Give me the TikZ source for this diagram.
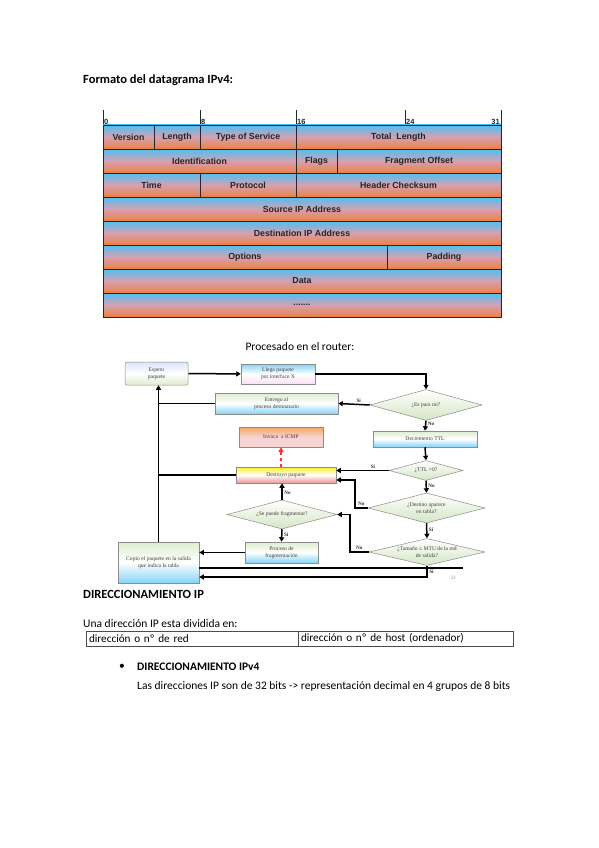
\documentclass[tikz,border=0pt]{standalone}
\usepackage{fontspec}
\setmainfont{Carlito}
\newfontfamily\fieldfont{Liberation Sans}
\newfontfamily\slidefont{Liberation Serif}
\usetikzlibrary{arrows.meta, shapes.geometric}

\definecolor{ipblue}{RGB}{78,192,242}
\definecolor{ippink}{RGB}{214,160,178}
\definecolor{iporange}{RGB}{236,128,66}
\definecolor{boxgreen}{RGB}{222,236,208}
\definecolor{boxblue}{RGB}{132,212,246}
\definecolor{boxlav}{RGB}{222,228,248}
\definecolor{boxpink}{RGB}{248,226,240}
\definecolor{boxorange}{RGB}{244,166,96}
\definecolor{boxrose}{RGB}{246,212,212}
\definecolor{boxyellow}{RGB}{255,240,40}
\definecolor{boxred}{RGB}{238,150,150}
\definecolor{dmdgreen}{RGB}{212,230,196}

\begin{document}
\begin{tikzpicture}[x=1pt, y=-1pt,
    field/.style={draw=black!85, line width=0.9pt, top color=ipblue, bottom color=iporange, middle color=ippink,
      minimum height=24pt, inner sep=0pt, text=black!85, font=\fieldfont\bfseries\fontsize{8.8}{10}\selectfont},
    bitlbl/.style={inner sep=1pt, text=black!85, font=\fieldfont\bfseries\fontsize{7.5}{8}\selectfont},
    fbox/.style={draw=black!45, line width=0.5pt, inner sep=1pt, align=center, text=black!75,
      font=\slidefont\fontsize{5.6}{6.8}\selectfont},
    decision/.style={fbox, diamond, shape aspect=4.3, inner sep=0pt, top color=white, bottom color=dmdgreen},
    arr/.style={line width=1.5pt, -{Triangle[length=4.5pt, width=5pt]}},
    link/.style={line width=1.5pt},
    lbl/.style={inner sep=1.5pt, text=black!80, font=\slidefont\bfseries\fontsize{5.2}{6}\selectfont},
    pagetext/.style={anchor=west, inner sep=0pt, font=\fontsize{11.5}{13}\selectfont},
    pagehead/.style={pagetext, font=\bfseries\fontsize{12.5}{14}\selectfont},
    cell/.style={draw=black!70, line width=0.6pt, minimum height=15pt, inner xsep=3pt, inner ysep=0pt,
      text width=206pt, align=left, font=\fontsize{11.2}{13}\selectfont}]
  \fill[white] (0,0) rectangle (599,848);
  \useasboundingbox (0,0) rectangle (599,848);

  \node[pagehead] (title) at (83,80) {Formato del datagrama IPv4:};

  % bit ruler
  \foreach \x/\b in {103/0, 200/8, 296/16, 405/24} {
    \draw[line width=0.9pt, black!85] (\x,110) -- (\x,125);
    \node[bitlbl, anchor=south west] (bit\b) at (\x,125.5) {\b};
  }
  \draw[line width=0.9pt, black!85] (501,110) -- (501,125);
  \node[bitlbl, anchor=south east] (bit31) at (501,125.5) {31};

  % header fields
  \node[field, minimum width=51pt] (version) at (128.5,137) {Version};
  \node[field, minimum width=46pt] (length) at (177,137) {Length};
  \node[field, minimum width=96pt] (tos) at (248,137) {Type of Service};
  \node[field, minimum width=205pt] (total) at (398.5,137) {Total\ \ Length};
  \node[field, minimum width=193pt] (ident) at (199.5,161) {Identification};
  \node[field, minimum width=41pt] (flags) at (316.5,161) {Flags};
  \node[field, minimum width=164pt] (offset) at (419,161) {Fragment Offset};
  \node[field, minimum width=97pt] (ttlf) at (151.5,185) {Time};
  \node[field, minimum width=96pt] (proto) at (248,185) {Protocol};
  \node[field, minimum width=205pt] (check) at (398.5,185) {Header Checksum};
  \node[field, minimum width=398pt] (src) at (302,209) {Source IP Address};
  \node[field, minimum width=398pt] (dst) at (302,233) {Destination IP Address};
  \node[field, minimum width=284pt] (opts) at (245,257) {Options};
  \node[field, minimum width=114pt] (pad) at (444,257) {Padding};
  \node[field, minimum width=398pt] (data) at (302,281) {Data};
  \node[field, minimum width=398pt] (more) at (302,305) {.......};

  \node[pagetext, anchor=center] (router) at (300,347) {Procesado en el router:};

  % flowchart
  \node[fbox, rounded corners=2pt, minimum width=63pt, minimum height=23pt, top color=boxlav, bottom color=boxgreen, middle color=white] (espero) at (156.5,373.5) {Espero\\paquete};
  \node[fbox, minimum width=74pt, minimum height=20pt, top color=boxblue, bottom color=boxpink, middle color=white] (llega) at (278,374) {Llega paquete\\por interface X};
  \node[decision, minimum width=112pt, minimum height=31pt] (espara) at (426,405) {¿Es para mi?};
  \node[fbox, minimum width=123pt, minimum height=21pt, top color=boxgreen, bottom color=boxblue, middle color=white] (entrego) at (276.5,403.5) {Entrego al\\proceso destinatario};
  \node[fbox, minimum width=104pt, minimum height=16pt, top color=boxgreen, bottom color=boxblue, middle color=white] (decr) at (425,439) {Decremento TTL};
  \node[fbox, minimum width=84pt, minimum height=20pt, top color=boxorange, bottom color=boxrose, middle color=boxrose] (invoca) at (281,437) {Invoca\ \ a ICMP};
  \node[decision, minimum width=74pt, minimum height=20pt] (ttl) at (426,470.5) {¿TTL =0?};
  \node[fbox, minimum width=100pt, minimum height=16pt, top color=boxyellow, bottom color=boxred, middle color=white] (destruyo) at (286,475) {Destruyo paquete};
  \node[decision, minimum width=117pt, minimum height=30pt] (destino) at (426.5,508) {¿Destino aparece\\en tabla?};
  \node[decision, minimum width=116pt, minimum height=27pt] (tam) at (427,552) {¿Tamaño ≤ MTU de la red\\de salida?};
  \node[decision, minimum width=110pt, minimum height=29pt] (frag) at (282,514.5) {¿Se puede fragmentar?};
  \node[fbox, minimum width=73pt, minimum height=21pt, top color=boxgreen, bottom color=boxblue, middle color=white] (proceso) at (281.5,552.5) {Proceso de\\fragmentación};
  \node[fbox, minimum width=81pt, minimum height=41pt, top color=boxgreen, bottom color=boxblue, middle color=white] (copio) at (158.5,562.5) {Copio el paquete en la salida\\que indica la tabla};
  \node[inner sep=0pt, text=black!45, font=\slidefont\fontsize{5}{6}\selectfont] (slideno) at (453,578) {23};

  \coordinate (toDestruyo) at ([yshift=-5pt]destruyo.east);
  \coordinate (toCopio) at ([yshift=-14.5pt]copio.east);
  \coordinate (fromCopio) at ([yshift=-5.5pt]copio.east);
  \coordinate (lineEnd) at (463,568);

  \draw[arr] (espero) -- (llega);
  \draw[arr] (llega.east) -| (espara.north);
  \draw[arr] (espara.west) -- node[lbl, above, pos=0.35] (siA) {Si} (entrego.east);
  \draw[link] (entrego.west) -- (entrego.west -| copio.north);
  \draw[arr] (copio.north) -- (copio.north |- espero.south);
  \draw[arr] (espara.south) -- node[lbl, right, pos=0.3] (noA) {No} (decr.north);
  \draw[arr] (decr.south) -- (ttl.north);
  \draw[arr] (ttl.west) -- node[lbl, above, pos=0.3] (siB) {Si} (ttl.west -| destruyo.east);
  \draw[link] (destruyo.west) -- (destruyo.west -| copio.north);
  \draw[arr, red!80, dashed, line width=1.2pt] (invoca.south |- destruyo.north) -- (invoca.south);
  \draw[arr] (ttl.south) -- node[lbl, right, pos=0.4] (noB) {No} (destino.north);
  \draw[arr] (destino.west) -- node[lbl, above, pos=0.5] (noC) {No} ++(-13,0) |- (toDestruyo);
  \draw[arr] (destino.south) -- node[lbl, right, pos=0.4] (siC) {Si} (tam.north);
  \draw[arr] (tam.west) -- node[lbl, above, pos=0.5] (noD) {No} ++(-19,0) |- (frag.east);
  \draw[arr] (frag.north) -- node[lbl, right, pos=0.4] (noE) {No} (frag.north |- destruyo.south);
  \draw[arr] (frag.south) -- node[lbl, right, pos=0.4] (siD) {Si} (proceso.north);
  \draw[arr] (proceso.west) -- (proceso.west -| copio.east);
  \draw[link] (fromCopio) -- (lineEnd);
  \draw[arr] (tam.south) |- node[lbl, right, pos=0.25] (siE) {Si} (toCopio);

  % text below
  \node[pagehead] (dirip) at (83,594) {DIRECCIONAMIENTO IP};
  \node[pagetext] (divide) at (83,624) {Una dirección IP esta dividida en:};
  \node[cell] (red) at (192,638.5) {dirección o nº de red};
  \node[cell, text width=209.5pt] (host) at (405.75,638.5) {dirección o nº de host (ordenador)};
  \node[pagetext] (bullet) at (119,667) {•};
  \node[pagehead, font=\bfseries\fontsize{11.5}{13}\selectfont] (ipv4) at (137,667) {DIRECCIONAMIENTO IPv4};
  \node[pagetext] (bits) at (137,686) {Las direcciones IP son de 32 bits -> representación decimal en 4 grupos de 8 bits};
\end{tikzpicture}
\end{document}
